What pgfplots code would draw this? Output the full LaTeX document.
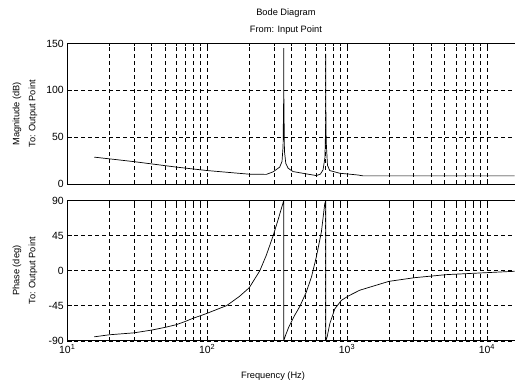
\documentclass[border=0pt]{standalone}
\usepackage{pgfplots}
\pgfplotsset{compat=1.18}
\usepackage{fontspec}
\setmainfont{Liberation Sans}
\pgfplotsset{
  every axis/.append style={
    xmode=log, xmin=10, xmax=15780,
    scale only axis, width=447.5bp, height=140.5bp,
    axis x line=box, axis y line=left,
    axis line style={line width=0.8bp, -},
    tick style={black, line width=0.6bp},
    major tick length=4.5bp, minor tick length=3bp,
    tick align=inside,
    grid=both,
    major grid style={black, line width=0.6bp, dash pattern=on 4bp off 3bp},
    minor grid style={black, line width=0.6bp, dash pattern=on 4bp off 3bp},
    ticklabel style={font=\fontsize{10.5}{11}\selectfont},
    label style={font=\fontsize{9.3}{16}\selectfont, align=center},
    ylabel style={at={(axis description cs:-0.0945,0.5)}, anchor=center, rotate=0},
    xtick={10,100,1000,10000},
  },
}
\begin{document}
\begin{tikzpicture}
\path (0,0) rectangle (515bp,-385bp);
\begin{axis}[at={(67.3bp,-43.5bp)}, anchor=north west,
  ymin=0, ymax=150, ytick={0,50,100,150},
  xticklabels={},
  ylabel={Magnitude (dB)\\To: Output Point},
  /pgf/number format/assume math mode=true]
\addplot[black, line width=0.7bp] coordinates {
(15.6,28.6) (20,26.8) (30,23.8) (40,21.4) (60,18) (100,14.3) (150,12) (200,10.4)
(265,10.2) (296,12.9) (330,17.9) (343,24) (349,40) (352.2,88) (353,145) (353.8,88) (357,35) (365,22) (379,16.8)
(411,13.2) (513,10.7) (604,8.9) (645,10.5) (674,15) (695,28) (703,60) (704.5,84) (705,139) (705.5,84) (710,45) (725,20)
(752,14.3) (887,11.4) (1045,10.4) (1200,9.5) (1300,8.6) (2000,8.6) (5000,8.6) (10000,8.6) (15780,8.6)
};
\end{axis}
\begin{axis}[at={(67.3bp,-200.7bp)}, anchor=north west, height=140.3bp,
  ymin=-90, ymax=90, ytick={-90,-45,0,45,90},
  xticklabels={10\textsuperscript{1},10\textsuperscript{2},10\textsuperscript{3},10\textsuperscript{4}},
  xlabel={Frequency (Hz)},
  xlabel style={at={(axis description cs:0.46,0)}, anchor=center, yshift=-35bp},
  ylabel={Phase (deg)\\To: Output Point},
  /pgf/number format/assume math mode=true]
\addplot[black, line width=0.7bp] coordinates {
(15.6,-84.8) (20,-82.2) (30,-79.7) (40,-76.2) (50,-72.7) (60,-69.3) (70,-65) (80,-60.7) (90,-57.6) (100,-54.6)
(138,-44.7) (170,-33) (200,-21.8) (238,0) (265,20) (296,44.7) (321,65) (346,85) (353,90)
(353,-90) (365,-82) (384,-72) (420,-58) (459,-46) (510,-28) (557,-8) (604,18) (656,50) (693,86) (705,90)
(705,-90) (721,-85) (752,-68.4) (817,-49) (912,-38) (1017,-32.6) (1233,-25) (1995,-13.6) (3046,-8.9)
(5131,-5) (8870,-2.9) (15780,-0.7)
};
\end{axis}
\node[font=\fontsize{9.3}{10}\selectfont] at (286bp,-13.3bp) {Bode Diagram};
\node[font=\fontsize{9.3}{10}\selectfont] at (286bp,-30bp) {From: Input Point};
\end{tikzpicture}
\end{document}
